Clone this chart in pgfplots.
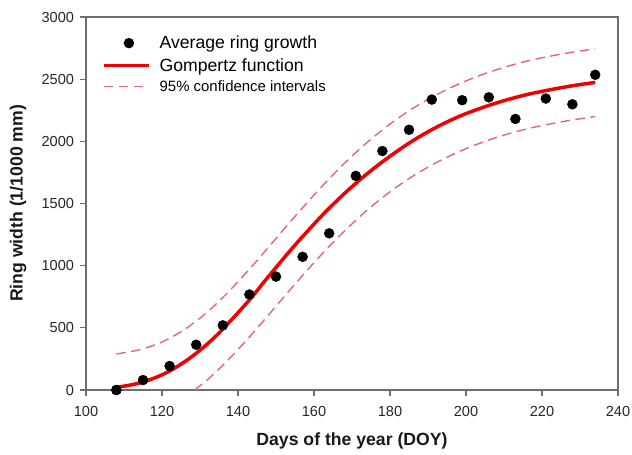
\documentclass[border=0pt]{standalone}
\usepackage{fontspec}
\setmainfont{Liberation Sans}
\usepackage{pgfplots}
\pgfplotsset{compat=1.18}
\definecolor{axgray}{RGB}{110,110,110}
\definecolor{fitred}{RGB}{240,0,0}
\definecolor{cired}{RGB}{228,104,116}
\pgfplotsset{
  widelegend/.style={legend image code/.code={\draw[##1] (0bp,0bp) -- (45bp,0bp);}},
  marklegend/.style={legend image code/.code={\path[draw=none] (0bp,0bp) -- (45bp,0bp); \draw[##1] plot coordinates {(25bp,0bp)};}},
}

\begin{document}
\begin{tikzpicture}
\begin{axis}[
  scale only axis,
  width=532bp, height=373bp,
  xmin=100, xmax=240, ymin=0, ymax=3000,
  xtick={100,120,...,240}, ytick={0,500,...,3000},
  tick align=outside, xtick pos=bottom, ytick pos=left,
  major tick length=6bp,
  axis line style={axgray, line width=1.3bp},
  every tick/.style={axgray, line width=1.1bp},
  /pgf/number format/assume math mode=true,
  /pgf/number format/1000 sep={},
  ticklabel style={font=\fontsize{14.6}{17}\selectfont, text=black!85},
  xticklabel style={yshift=-7bp},
  yticklabel style={xshift=-2.5bp},
  xlabel={Days of the year (DOY)},
  ylabel={Ring width (1/1000 mm)},
  label style={font=\fontsize{17.7}{20}\selectfont\bfseries, text=black!90},
  xlabel style={at={(axis description cs:0.5,-0.150)}, anchor=base},
  ylabel style={at={(axis description cs:-0.1275,0.5)}, anchor=center},
  legend style={draw=none, fill=none, at={(axis description cs:0.030,0.955)}, anchor=north west,
    font=\fontsize{17.7}{20}\selectfont, inner sep=0pt, row sep=4bp,
    nodes={inner sep=2bp},
    /tikz/every odd column/.append style={column sep=7bp}},
  legend cell align=left,
]
% average ring growth (legend entry)
\addplot[only marks, mark=*, mark size=5bp, black, marklegend]
  coordinates {(108,0)};
\addlegendentry{Average ring growth}
% Gompertz fit
\addplot[fitred, line width=3.5bp, smooth, widelegend]
  coordinates {
  (108,22) (111,36) (114,56) (117,85) (120,122) (123,170) (126,228) (129,295) (132,372)
  (135,458) (138,555) (141,655) (144,760) (147,875) (150,985) (153,1095) (156,1200)
  (162,1400) (168,1580) (174,1740) (180,1880) (186,2005) (192,2110) (198,2198)
  (204,2268) (210,2327) (216,2376) (222,2414) (228,2447) (234,2474)};
\addlegendentry{Gompertz function}
% upper 95% CI
\addplot[cired, line width=1.4bp, dash pattern=on 9.5bp off 5.5bp, smooth, widelegend]
  coordinates {
  (108,290) (114,323) (120,386) (126,488) (132,629) (138,806) (144,1006) (150,1219)
  (156,1432) (162,1635) (168,1823) (174,1992) (180,2139) (186,2265) (192,2371)
  (198,2460) (204,2534) (210,2595) (216,2645) (222,2684) (228,2717) (234,2744)};
\addlegendentry{\fontsize{15}{18}\selectfont 95\% confidence intervals}
% lower 95% CI
\addplot[cired, line width=1.4bp, dash pattern=on 9.5bp off 5.5bp, smooth, forget plot]
  coordinates {
  (128.6,0) (132,84) (135,169) (138,261) (141,359) (144,461) (150,674) (156,887)
  (162,1090) (168,1278) (174,1447) (180,1594) (186,1720) (192,1826) (198,1915)
  (204,1989) (210,2050) (216,2100) (222,2139) (228,2172) (234,2199)};
% data points on top
\addplot[only marks, mark=*, mark size=5bp, black, forget plot]
  coordinates {
  (108,0) (115,80) (122,193) (129,364) (136,520) (143,768) (150,912) (157,1071)
  (164,1260) (171,1722) (178,1922) (185,2093) (191,2336) (199,2331) (206,2354)
  (213,2180) (221,2344) (228,2298) (234,2535)};
\end{axis}
\pgfresetboundingbox
\path ([xshift=-86bp,yshift=-65bp]current axis.south west) rectangle ([xshift=14bp,yshift=17bp]current axis.north east);
\end{tikzpicture}
\end{document}
